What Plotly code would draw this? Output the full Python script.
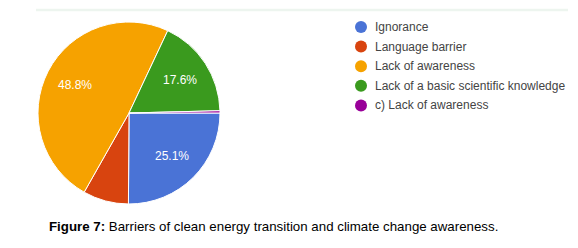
import math
import plotly.graph_objects as go

categories = ["Ignorance", "Language barrier", "Lack of awareness",
              "Lack of a basic scientific knowledge", "c) Lack of awareness"]
values = [25.1, 8.1, 48.8, 17.6, 0.4]
colors = ["#4a73d6", "#d8440f", "#f6a200", "#3a9a1e", "#990099"]
caption_bold = "Figure 7:"
caption_text = "Barriers of clean energy transition and climate change awareness."

W, H = 578, 248
CX, CY, R = 129, 113, 91          # pie centre / radius in pixels (from top-left)
START = 90                        # first slice starts at 3 o'clock, clockwise
FONT = "Arial, Liberation Sans"

fig = go.Figure()
fig.add_trace(go.Pie(
    labels=categories, values=values, sort=False, direction="clockwise",
    rotation=START, marker=dict(colors=colors, line=dict(color="white", width=1)),
    textinfo="none", showlegend=False, hoverinfo="label+percent",
    domain=dict(x=[(CX - R) / W, (CX + R) / W],
                y=[(H - CY - R) / H, (H - CY + R) / H]),
))

# percentage labels placed at two thirds of the radius on each slice's mid-angle
total = sum(values)
acc = 0.0
for v in values:
    mid = START + (acc + v / 2) / total * 360
    acc += v
    if v / total < 0.10:
        continue
    px = CX + 0.67 * R * math.sin(math.radians(mid))
    py = CY - 0.67 * R * math.cos(math.radians(mid))
    fig.add_annotation(
        text=f"{v:.1f}%", x=px / W, y=(H - py) / H, xref="paper", yref="paper",
        xanchor="center", yanchor="middle", showarrow=False,
        font=dict(family=FONT, size=12, color="white"),
    )

# legend (circle markers, like the original)
LX, LY, LSTEP = 361, 27, 19.6
for i, (c, col) in enumerate(zip(categories, colors)):
    yy = (H - (LY + i * LSTEP)) / H
    fig.add_shape(type="circle", xref="paper", yref="paper",
                  xsizemode="pixel", ysizemode="pixel",
                  xanchor=LX / W, yanchor=yy, x0=-6, x1=6, y0=-6, y1=6,
                  fillcolor=col, line=dict(width=0))
    fig.add_annotation(
        text=c, x=(LX + 12) / W, y=yy, xref="paper", yref="paper",
        xanchor="left", yanchor="middle", showarrow=False,
        font=dict(family=FONT, size=12, color="#444444"),
    )

fig.add_annotation(
    text=f"<b>{caption_bold}</b> {caption_text}",
    x=273 / W, y=22 / H, xref="paper", yref="paper",
    xanchor="center", yanchor="middle", showarrow=False,
    font=dict(family=FONT, size=13.3, color="black"),
)
fig.add_shape(type="line", xref="paper", yref="paper",
              x0=36 / W, x1=568 / W, y0=(H - 10) / H, y1=(H - 10) / H,
              line=dict(color="#edf5ef", width=2.5))

fig.update_layout(
    width=W, height=H, margin=dict(l=0, r=0, t=0, b=0),
    paper_bgcolor="white", plot_bgcolor="white",
    xaxis=dict(visible=False), yaxis=dict(visible=False),
)
fig.write_html("out.html", config={"displayModeBar": False},
               post_script="document.body.style.margin='0';document.body.style.padding='0';")
